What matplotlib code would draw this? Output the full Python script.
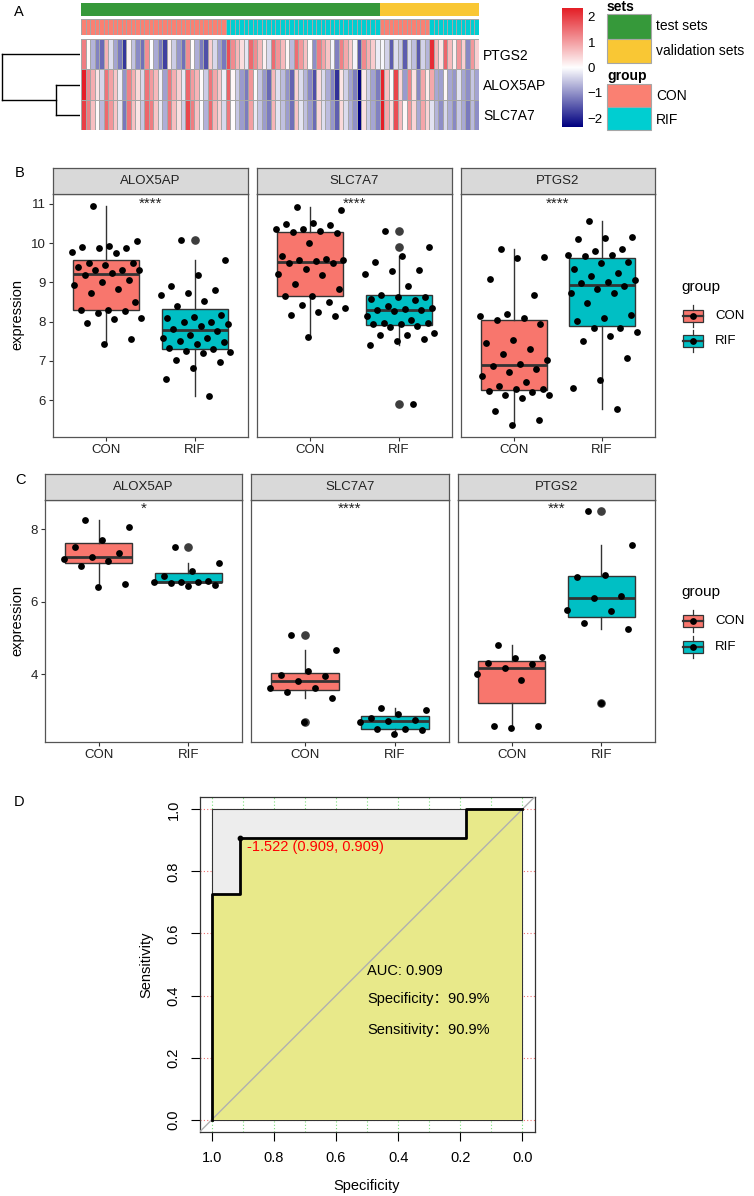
import numpy as np
import matplotlib.pyplot as plt
from matplotlib.colors import LinearSegmentedColormap, ListedColormap
from matplotlib.patches import Rectangle, Polygon

plt.rcParams["font.family"] = ["Liberation Sans", "DejaVu Sans"]

# ~~~ data ~~~
genes = ["ALOX5AP", "SLC7A7", "PTGS2"]
heat_rows = ["PTGS2", "ALOX5AP", "SLC7A7"]
groups = ["CON", "RIF"]

# test sets (panel B)
alox5ap_con_test = [10.95, 10.06, 9.92, 9.91, 9.88, 9.87, 9.78, 9.74, 9.50, 9.50, 9.44, 9.39, 9.31, 9.31, 9.31, 9.23,
                    9.18, 9.05, 9.02, 8.93, 8.84, 8.73, 8.51, 8.30, 8.29, 8.28, 8.22, 8.08, 8.07, 7.97, 7.56, 7.44]
alox5ap_rif_test = [10.09, 9.57, 9.19, 8.91, 8.80, 8.74, 8.67, 8.53, 8.39, 8.16, 8.11, 8.09, 8.00, 8.00, 7.95, 7.90,
                    7.82, 7.75, 7.65, 7.57, 7.57, 7.51, 7.49, 7.43, 7.33, 7.30, 7.25, 7.22, 7.20, 7.03, 6.98, 6.82,
                    6.54, 6.11]
slc7a7_con_test = [10.93, 10.83, 10.51, 10.48, 10.47, 10.36, 10.36, 10.30, 10.28, 10.25, 9.99, 9.66, 9.59, 9.57, 9.57,
                   9.55, 9.49, 9.48, 9.35, 9.21, 9.18, 8.95, 8.83, 8.66, 8.64, 8.51, 8.42, 8.35, 8.24, 8.17, 8.13, 7.61]
slc7a7_rif_test = [10.31, 9.90, 9.68, 9.51, 9.32, 9.28, 9.21, 8.91, 8.68, 8.63, 8.62, 8.58, 8.56, 8.40, 8.35, 8.33,
                   8.30, 8.29, 8.26, 8.15, 8.05, 7.96, 7.96, 7.95, 7.94, 7.90, 7.85, 7.71, 7.66, 7.65, 7.55, 7.50,
                   7.40, 5.89]
ptgs2_con_test = [9.86, 9.65, 9.61, 9.09, 8.67, 8.20, 8.14, 8.08, 8.04, 7.93, 7.53, 7.46, 7.30, 7.18, 7.01, 6.93,
                  6.87, 6.79, 6.72, 6.62, 6.46, 6.35, 6.27, 6.27, 6.24, 6.21, 6.13, 6.12, 6.05, 5.71, 5.50, 5.36]
ptgs2_rif_test = [10.55, 10.16, 10.13, 10.11, 9.86, 9.81, 9.70, 9.69, 9.66, 9.53, 9.49, 9.33, 9.25, 9.15, 9.05, 9.01,
                  8.98, 8.90, 8.84, 8.73, 8.73, 8.47, 8.18, 8.10, 8.02, 7.83, 7.83, 7.73, 7.64, 7.50, 7.07, 6.50,
                  6.32, 5.77]

# validation sets (panel C)
alox5ap_con_valid = [8.25, 8.06, 7.70, 7.51, 7.35, 7.24, 7.18, 7.12, 6.98, 6.49, 6.40]
alox5ap_rif_valid = [7.50, 7.05, 6.85, 6.71, 6.56, 6.55, 6.55, 6.54, 6.52, 6.47, 6.43]
slc7a7_con_valid = [5.08, 4.66, 4.08, 3.97, 3.94, 3.80, 3.61, 3.61, 3.52, 3.34, 2.67]
slc7a7_rif_valid = [3.08, 3.01, 2.90, 2.80, 2.75, 2.70, 2.68, 2.50, 2.49, 2.46, 2.36]
ptgs2_con_valid = [4.81, 4.48, 4.45, 4.30, 4.28, 4.16, 4.00, 3.84, 2.56, 2.56, 2.52]
ptgs2_rif_valid = [8.49, 7.55, 6.74, 6.67, 6.16, 6.10, 5.77, 5.73, 5.42, 5.24, 3.21]

stars_test = ["****", "****", "****"]
stars_valid = ["*", "****", "***"]

# ROC (panel D)
roc_specificity = [1.0, 1.0, 0.909, 0.909, 0.182, 0.182, 0.0]
roc_sensitivity = [0.0, 0.727, 0.727, 0.909, 0.909, 1.0, 1.0]
best_threshold = -1.522
best_spec = 0.909
best_sens = 0.909
auc_value = 0.909

# row dendrogram merge heights: (ALOX5AP, SLC7A7), then with PTGS2
dendro_heights = [0.30, 0.975]

test_con = {"ALOX5AP": alox5ap_con_test, "SLC7A7": slc7a7_con_test, "PTGS2": ptgs2_con_test}
test_rif = {"ALOX5AP": alox5ap_rif_test, "SLC7A7": slc7a7_rif_test, "PTGS2": ptgs2_rif_test}
valid_con = {"ALOX5AP": alox5ap_con_valid, "SLC7A7": slc7a7_con_valid, "PTGS2": ptgs2_con_valid}
valid_rif = {"ALOX5AP": alox5ap_rif_valid, "SLC7A7": slc7a7_rif_valid, "PTGS2": ptgs2_rif_valid}

# ~~~ styling ~~~
CON_BOX, RIF_BOX = "#F8766D", "#00BFC4"
CON_ANN, RIF_ANN = "#FA8072", "#00CED1"
SET_TEST, SET_VALID = "#36993A", "#F9C734"
EDGE = "#333333"
FRAME = "#555555"

W, H = 754, 1196
fig = plt.figure(figsize=(W / 100, H / 100), dpi=100)


def px_axes(l, t, r, b):
    return fig.add_axes([l / W, 1 - b / H, (r - l) / W, (b - t) / H])


# ~~~ panel A: heatmap ~~~
def zscore(a):
    a = np.asarray(a, float)
    return (a - a.mean()) / a.std(ddof=1)


def mix(vals, k):
    n = len(vals)
    return [vals[(i * k) % n] for i in range(n)]


n_tc, n_tr = len(alox5ap_con_test), len(alox5ap_rif_test)
n_vc, n_vr = len(alox5ap_con_valid), len(alox5ap_rif_valid)
rows = []
for g in heat_rows:
    zt = zscore(test_con[g] + test_rif[g])
    zv = zscore(valid_con[g] + valid_rif[g])
    rows.append(mix(list(zt[:n_tc]), 7) + mix(list(zt[n_tc:]), 7)
                + mix(list(zv[:n_vc]), 4) + mix(list(zv[n_vc:]), 4))
M = np.array(rows)
ncol = M.shape[1]
vlim = 2.35
hm_cmap = LinearSegmentedColormap.from_list("hm", ["#000080", "#FFFFFF", "#E41E26"])

hax = px_axes(81, 39, 479, 130)
hax.pcolormesh(np.arange(ncol + 1), np.arange(4), np.clip(M, -vlim, vlim), cmap=hm_cmap,
               vmin=-vlim, vmax=vlim, edgecolors="#A6A6A6", linewidth=0.4)
hax.set_xlim(0, ncol)
hax.set_ylim(3, 0)
hax.set_xticks([])
hax.yaxis.tick_right()
hax.set_yticks([0.5, 1.5, 2.5])
hax.set_yticklabels(heat_rows, fontsize=10)
hax.tick_params(axis="y", length=0, pad=3)
for s in hax.spines.values():
    s.set_visible(False)

# annotation bars
set_codes = np.array([[0] * (n_tc + n_tr) + [1] * (n_vc + n_vr)])
grp_codes = np.array([[0] * n_tc + [1] * n_tr + [0] * n_vc + [1] * n_vr])
sax = px_axes(81, 3, 479, 16)
sax.pcolormesh(np.arange(ncol + 1), [0, 1], set_codes, cmap=ListedColormap([SET_TEST, SET_VALID]),
               vmin=0, vmax=1)
gax = px_axes(81, 19, 479, 35)
gax.pcolormesh(np.arange(ncol + 1), [0, 1], grp_codes, cmap=ListedColormap([CON_ANN, RIF_ANN]),
               vmin=0, vmax=1, edgecolors="#A6A6A6", linewidth=0.4)
for a in (sax, gax):
    a.set_xlim(0, ncol)
    a.axis("off")

# dendrogram
dax = px_axes(0, 39, 80, 130)
h1, h2 = dendro_heights
dk = dict(color="black", lw=1)
dax.plot([0, h1], [1.5, 1.5], **dk)
dax.plot([0, h1], [2.5, 2.5], **dk)
dax.plot([h1, h1], [1.5, 2.5], **dk)
dax.plot([h1, h2], [2.0, 2.0], **dk)
dax.plot([0, h2], [0.5, 0.5], **dk)
dax.plot([h2, h2], [0.5, 2.0], **dk)
dax.set_xlim(1.0, 0)
dax.set_ylim(3, 0)
dax.axis("off")

# colour key
cax = px_axes(562, 8, 582, 127)
cax.imshow(np.linspace(vlim, -vlim, 256).reshape(-1, 1), aspect="auto", cmap=hm_cmap,
           vmin=-vlim, vmax=vlim, extent=[0, 1, -vlim, vlim])
cax.set_xticks([])
cax.yaxis.tick_right()
cax.set_yticks([-2, -1, 0, 1, 2])
cax.set_yticklabels(["\u22122", "\u22121", "0", "1", "2"], fontsize=9.5)
cax.tick_params(axis="y", length=0, pad=4)
for s in cax.spines.values():
    s.set_visible(False)


# ~~~ panels B and C: boxplots ~~~
def facet(l, r, strip_top, top, bottom, gene, con, rif, ylim, yticks, show_y, star, star_y):
    ax = px_axes(l, top, r, bottom)
    bp = ax.boxplot([con, rif], positions=[1, 2], widths=0.75, patch_artist=True, showcaps=False,
                    whis=1.5,
                    medianprops=dict(color=EDGE, lw=2),
                    boxprops=dict(edgecolor=EDGE, lw=1),
                    whiskerprops=dict(color=EDGE, lw=1),
                    flierprops=dict(marker="o", markerfacecolor="#3D3D3D",
                                    markeredgecolor="#3D3D3D", markersize=5.2))
    for patch, c in zip(bp["boxes"], [CON_BOX, RIF_BOX]):
        patch.set_facecolor(c)
    for pos, vals in zip([1, 2], [con, rif]):
        n = len(vals)
        off = ((np.arange(n) * 0.6180339887 + 0.31) % 1 - 0.5) * 0.8
        ax.scatter(pos + off, vals, s=24, c="black", lw=0, zorder=4)
    ax.text(1.5, star_y, star, ha="center", va="center", fontsize=11, color="#222222")
    ax.set_xlim(0.4, 2.6)
    ax.set_ylim(*ylim)
    ax.set_xticks([1, 2])
    ax.set_xticklabels(groups)
    ax.set_yticks(yticks)
    ax.tick_params(length=3, width=0.8, color=EDGE, labelsize=9.5, labelcolor="#222222", pad=2)
    if not show_y:
        ax.tick_params(axis="y", left=False, labelleft=False)
    for s in ax.spines.values():
        s.set_color(FRAME)
        s.set_linewidth(0.9)
    st = px_axes(l, strip_top, r, top)
    st.set_facecolor("#D9D9D9")
    st.set_xticks([])
    st.set_yticks([])
    for s in st.spines.values():
        s.set_color(FRAME)
        s.set_linewidth(0.9)
    st.text(0.5, 0.5, gene, ha="center", va="center", fontsize=9.5, color="#222222",
            transform=st.transAxes)
    return ax


b_cols = [(53, 248), (257, 452), (461, 655)]
c_cols = [(45, 242), (251, 449), (458, 655)]
b_max = max(max(v) for v in list(test_con.values()) + list(test_rif.values()))
c_max = max(max(v) for v in list(valid_con.values()) + list(valid_rif.values()))

for i, g in enumerate(genes):
    facet(b_cols[i][0], b_cols[i][1], 168, 194, 437, g, test_con[g], test_rif[g],
          (5.06, 11.25), [6, 7, 8, 9, 10, 11], i == 0, stars_test[i], b_max + 0.06)
    facet(c_cols[i][0], c_cols[i][1], 474, 500, 742, g, valid_con[g], valid_rif[g],
          (2.13, 8.80), [4, 6, 8], i == 0, stars_valid[i], c_max + 0.08)

# ~~~ panel D: ROC ~~~
rax = px_axes(199.5, 797, 534.6, 1132)
rax.set_xlim(1.04, -0.04)
rax.set_ylim(-0.04, 1.04)
for g in np.arange(0, 1.01, 0.1):
    rax.axvline(g, color="#7CE07C", ls=(0, (1, 2)), lw=0.8, zorder=0)
for g in np.arange(0, 1.01, 0.2):
    rax.axhline(g, color="#F07070", ls=(0, (1, 2)), lw=0.8, zorder=0)
rax.add_patch(Polygon([(1, 0), (1, 1), (0, 1), (0, 0)], closed=True, fc="#EDEDED",
                      ec="#333333", lw=0.8, zorder=1))
auc_poly = list(zip(roc_specificity, roc_sensitivity)) + [(0, 0), (1, 0)]
rax.add_patch(Polygon(auc_poly, closed=True, fc="#E8E98A", ec="none", zorder=2))
rax.axline((1, 0), (0, 1), color="#B0B0B0", lw=1, zorder=3)
rax.plot(roc_specificity, roc_sensitivity, color="black", lw=2, zorder=4)
rax.scatter([best_spec], [best_sens], s=10, c="black", zorder=5)
rax.annotate(f"{best_threshold:.3f} ({best_spec:.3f}, {best_sens:.3f})", (best_spec, best_sens),
             xytext=(5, -1.5), textcoords="offset points", ha="left", va="top",
             color="#FF0000", fontsize=10.5, zorder=6)
cjk = ["Liberation Sans", "Noto Sans CJK SC"]
rax.text(0.5, 0.48, f"AUC: {auc_value:.3f}", ha="left", va="center", fontsize=10.5, zorder=6)
rax.text(0.5, 0.389, f"Specificity\uff1a{best_spec * 100:.1f}%", ha="left", va="center",
         fontsize=10.5, family=cjk, zorder=6)
rax.text(0.5, 0.289, f"Sensitivity\uff1a{best_sens * 100:.1f}%", ha="left", va="center",
         fontsize=10.5, family=cjk, zorder=6)
ticks = [1.0, 0.8, 0.6, 0.4, 0.2, 0.0]
rax.set_xticks(ticks)
rax.set_xticklabels([f"{t:.1f}" for t in ticks])
rax.set_yticks(ticks)
rax.set_yticklabels([f"{t:.1f}" for t in ticks], rotation=90, va="center")
rax.tick_params(length=6.5, width=0.8, labelsize=10.5, pad=7)
for s in rax.spines.values():
    s.set_color("#333333")
    s.set_linewidth(0.9)

# ~~~ overlay: labels and legends ~~~
ov = fig.add_axes([0, 0, 1, 1])
ov.set_xlim(0, W)
ov.set_ylim(H, 0)
ov.axis("off")
ov.patch.set_alpha(0)

for lab, x, y in [("A", 19, 12), ("B", 20, 173), ("C", 20, 480), ("D", 19, 802)]:
    ov.text(x, y, lab, ha="center", va="center", fontsize=10.5)

# heatmap legends
ov.text(607, 7, "sets", ha="left", va="center", fontsize=10, fontweight="bold")
ov.add_patch(Rectangle((607, 14), 44, 25, fc=SET_TEST, ec="#A6A6A6", lw=0.8))
ov.add_patch(Rectangle((607, 39), 44, 24, fc=SET_VALID, ec="#A6A6A6", lw=0.8))
ov.text(656, 26, "test sets", ha="left", va="center", fontsize=10)
ov.text(656, 51, "validation sets", ha="left", va="center", fontsize=10)
ov.text(607, 76, "group", ha="left", va="center", fontsize=10, fontweight="bold")
ov.add_patch(Rectangle((607, 84), 44, 23, fc=CON_ANN, ec="#A6A6A6", lw=0.8))
ov.add_patch(Rectangle((607, 107), 44, 23, fc=RIF_ANN, ec="#A6A6A6", lw=0.8))
ov.text(656, 96, "CON", ha="left", va="center", fontsize=10)
ov.text(656, 120, "RIF", ha="left", va="center", fontsize=10)


def box_key(x0, yc, color):
    ov.add_patch(Rectangle((x0, yc - 6), 20, 12, fc=color, ec=EDGE, lw=0.9))
    ov.plot([x0 + 10, x0 + 10], [yc - 11, yc - 6], color=EDGE, lw=0.9)
    ov.plot([x0 + 10, x0 + 10], [yc + 6, yc + 11], color=EDGE, lw=0.9)
    ov.plot([x0, x0 + 20], [yc, yc], color=EDGE, lw=1.6)
    ov.scatter([x0 + 10], [yc], s=24, c="black", lw=0, zorder=5)


for gy, cy, ry in [(287, 316, 341), (592, 621, 647)]:
    ov.text(681, gy, "group", ha="left", va="center", fontsize=11)
    box_key(683, cy, CON_BOX)
    box_key(683, ry, RIF_BOX)
    ov.text(715, cy, "CON", ha="left", va="center", fontsize=9.5)
    ov.text(715, ry, "RIF", ha="left", va="center", fontsize=9.5)

ov.text(17, 315, "expression", rotation=90, ha="center", va="center", fontsize=10.5)
ov.text(17, 621, "expression", rotation=90, ha="center", va="center", fontsize=10.5)
ov.text(367, 1186, "Specificity", ha="center", va="center", fontsize=10.5)
ov.text(146, 965, "Sensitivity", rotation=90, ha="center", va="center", fontsize=10.5)

fig.savefig("out.png", dpi=100)
